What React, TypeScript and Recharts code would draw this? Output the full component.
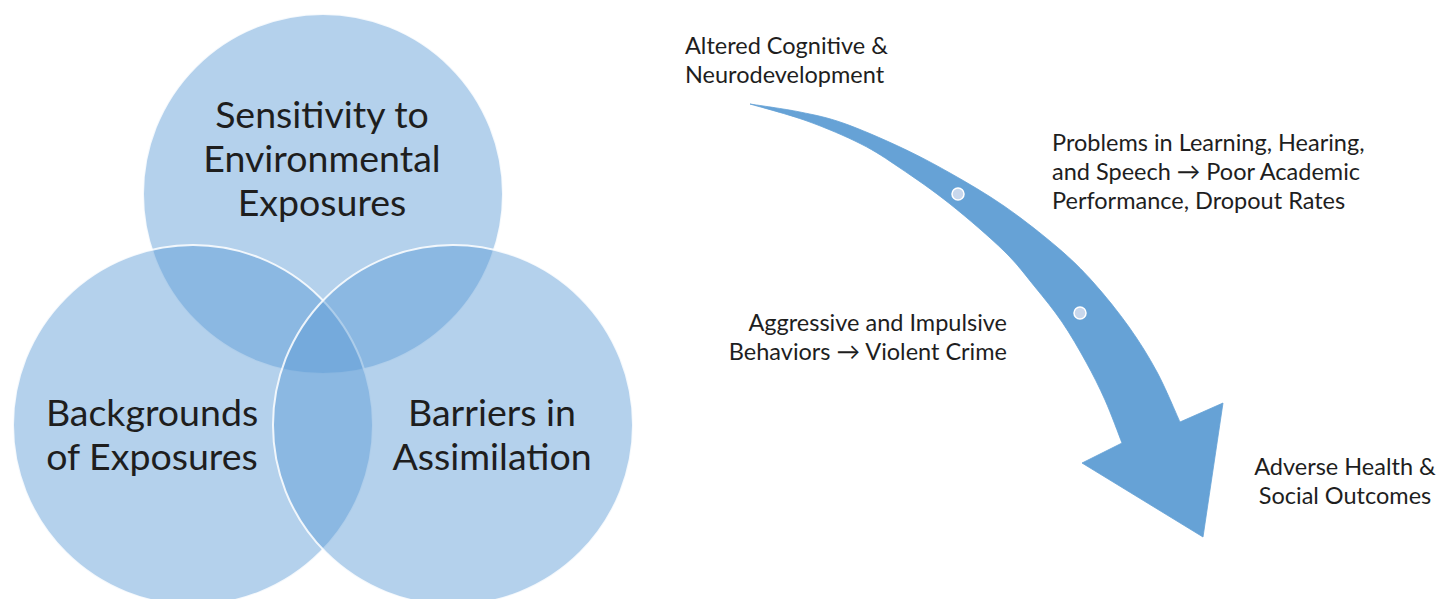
import { ScatterChart, Scatter, XAxis, YAxis } from 'recharts';

const W = 1441;
const H = 599;

// three overlapping sets, in diagram units (1 unit = 1px)
const circles = [
  { name: 'sensitivity', x: 323, y: 194, r: 180 },
  { name: 'backgrounds', x: 193, y: 425, r: 180 },
  { name: 'barriers', x: 453, y: 425, r: 180 },
];

const vennLabels = [
  { x: 322, y: 157, lines: ['Sensitivity to', 'Environmental', 'Exposures'] },
  { x: 152, y: 433, lines: ['Backgrounds', 'of Exposures'] },
  { x: 492, y: 433, lines: ['Barriers in', 'Assimilation'] },
];

// curved arrow outline: upper edge, head, lower edge (back to the tail)
const arrowUpper = [
  { x: 750, y: 104 },
  { x: 800, y: 112 },
  { x: 843, y: 123 },
  { x: 900, y: 147 },
  { x: 950, y: 173 },
  { x: 1004, y: 206 },
  { x: 1057, y: 247 },
  { x: 1093, y: 282 },
  { x: 1129, y: 327 },
  { x: 1157, y: 372 },
  { x: 1180, y: 422 },
];
const arrowHead = [
  { x: 1223, y: 403 },
  { x: 1203, y: 537 },
  { x: 1082, y: 463 },
];
const arrowLower = [
  { x: 1122, y: 443 },
  { x: 1105, y: 400 },
  { x: 1086, y: 362 },
  { x: 1062, y: 322 },
  { x: 1035, y: 287 },
  { x: 1004, y: 251 },
  { x: 950, y: 204 },
  { x: 900, y: 168 },
  { x: 861, y: 144 },
  { x: 807, y: 121 },
];
const arrowDots = [
  { x: 958, y: 194 },
  { x: 1080, y: 313 },
];

const notes = [
  { x: 685, y: 59, anchor: 'start', lines: ['Altered Cognitive &', 'Neurodevelopment'] },
  { x: 1052, y: 171, anchor: 'start', lines: ['Problems in Learning, Hearing,', 'and Speech \u2192 Poor Academic', 'Performance, Dropout Rates'] },
  { x: 1007, y: 336, anchor: 'end', lines: ['Aggressive and Impulsive', 'Behaviors \u2192 Violent Crime'] },
  { x: 1345, y: 480, anchor: 'middle', lines: ['Adverse Health &', 'Social Outcomes'] },
];

const outline = [...arrowUpper, ...arrowHead, ...arrowLower];
const PX = W / W; // px per diagram unit

const font = 'Lato, "Open Sans", sans-serif';

const textBlock = (size: number, lh: number) => (p: any) => {
  const { cx, cy, payload } = p;
  const n = payload.lines.length;
  return (
    <text
      x={cx}
      y={cy - ((n - 1) * lh) / 2}
      textAnchor={payload.anchor ?? 'middle'}
      dominantBaseline="central"
      fontFamily={font}
      fontSize={size}
      fill="#1e1e1e"
    >
      {payload.lines.map((l: string, i: number) => (
        <tspan key={i} x={cx} dy={i === 0 ? 0 : lh}>
          {l}
        </tspan>
      ))}
    </text>
  );
};

// catmull-rom through a run of points (start point already drawn)
const smooth = (run: any[]) => {
  let d = '';
  for (let i = 0; i < run.length - 1; i++) {
    const p0 = run[i - 1] || run[i];
    const p1 = run[i];
    const p2 = run[i + 1];
    const p3 = run[i + 2] || p2;
    const c1x = p1.x + (p2.x - p0.x) / 6;
    const c1y = p1.y + (p2.y - p0.y) / 6;
    const c2x = p2.x - (p3.x - p1.x) / 6;
    const c2y = p2.y - (p3.y - p1.y) / 6;
    d += ` C${c1x},${c1y} ${c2x},${c2y} ${p2.x},${p2.y}`;
  }
  return d;
};

const arrowShape = (p: any) => {
  const pts = p.points || [];
  if (!pts.length) return <g />;
  const nu = arrowUpper.length;
  const nh = arrowHead.length;
  const upper = pts.slice(0, nu);
  const head = pts.slice(nu, nu + nh);
  const lower = [...pts.slice(nu + nh), pts[0]];
  let d = `M${upper[0].x},${upper[0].y}` + smooth(upper);
  head.forEach((q: any) => (d += ` L${q.x},${q.y}`));
  d += ` L${lower[0].x},${lower[0].y}` + smooth(lower) + ' Z';
  return <path d={d} fill="#66a2d6" stroke="#66a2d6" strokeWidth={0.8} strokeLinejoin="miter" />;
};

export default function App() {
  return (
    <div style={{ position: 'absolute', left: 0, top: 0, background: '#fff' }}>
      <ScatterChart width={W} height={H} margin={{ top: 0, right: 0, bottom: 0, left: 0 }}>
        <XAxis type="number" dataKey="x" domain={[0, W]} hide />
        <YAxis type="number" dataKey="y" domain={[0, H]} reversed hide />
        <Scatter
          data={circles}
          isAnimationActive={false}
          shape={(p: any) => (
            <circle
              cx={p.cx}
              cy={p.cy}
              r={p.payload.r * PX}
              fill="#5b9bd5"
              fillOpacity={0.46}
              stroke="#ffffff"
              strokeWidth={2}
              strokeOpacity={0.85}
            />
          )}
        />
        <Scatter data={vennLabels} isAnimationActive={false} shape={textBlock(37.5, 44)} />
        <Scatter
          data={outline}
          isAnimationActive={false}
          shape={() => <g />}
          line={arrowShape}
          lineType="joint"
        />
        <Scatter
          data={arrowDots}
          isAnimationActive={false}
          shape={(p: any) => (
            <circle cx={p.cx} cy={p.cy} r={6} fill="#c8d7ec" stroke="#ffffff" strokeWidth={1.5} />
          )}
        />
        <Scatter data={notes} isAnimationActive={false} shape={textBlock(23.5, 29)} />
      </ScatterChart>
    </div>
  );
}
